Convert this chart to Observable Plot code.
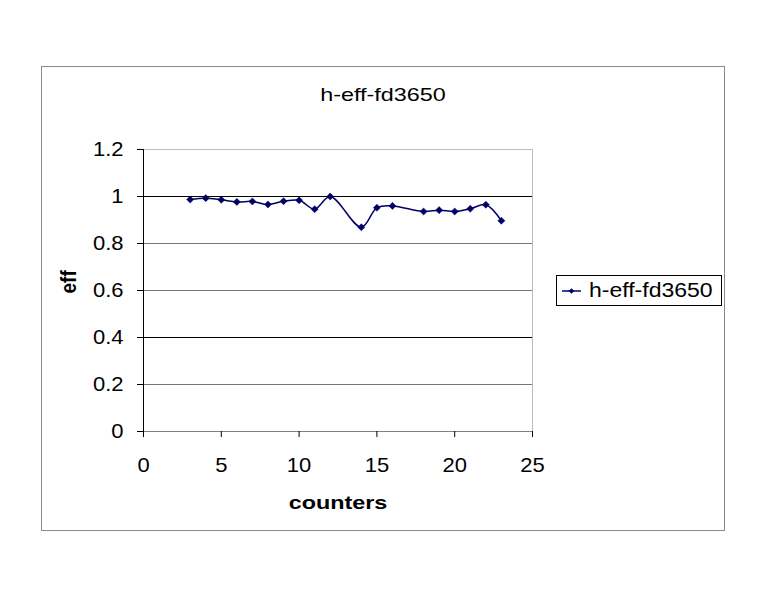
<!DOCTYPE html>
<html>
<head>
<meta charset="utf-8">
<script src="https://cdn.jsdelivr.net/npm/d3@7"></script>
<script src="https://cdn.jsdelivr.net/npm/@observablehq/plot@0.6"></script>
<style>
  html, body { margin: 0; padding: 0; background: #fff; }
  #wrap { position: relative; width: 768px; height: 596px; overflow: hidden; font-family: "Liberation Sans", Arial, sans-serif; }
  #border { position: absolute; left: 41px; top: 66px; width: 684px; height: 465px; box-sizing: border-box; border: 1px solid #8a8a8a; }
  #chart { position: absolute; left: 0; top: 0; }
  #legend { position: absolute; left: 556px; top: 275px; width: 166px; height: 31px; box-sizing: border-box; border: 1px solid #000; background: #fff; }
  #legend svg { position: absolute; left: 0; top: 0; }
  #legend .lab { position: absolute; left: 32px; top: 4px; font-size: 20px; line-height: 20px; white-space: nowrap; transform: scaleX(1.15); transform-origin: left center; color: #000; }
</style>
</head>
<body>
<div id="wrap">
  <div id="border"></div>
  <div id="chart"></div>
  <div id="legend"></div>
</div>
<script>
// ---- data ----
const counters = [3, 4, 5, 6, 7, 8, 9, 10, 11, 12, 14, 15, 16, 18, 19, 20, 21, 22, 23];
const eff = [0.987, 0.993, 0.986, 0.977, 0.979, 0.966, 0.980, 0.984, 0.946, 1.000, 0.869, 0.952, 0.960, 0.936, 0.942, 0.936, 0.948, 0.965, 0.897];
const xTicks = [0, 5, 10, 15, 20, 25];
const yTicks = [0, 0.2, 0.4, 0.6, 0.8, 1, 1.2];
const seriesName = "h-eff-fd3650";
const chartTitle = "h-eff-fd3650";
const xLabel = "counters";
const yLabel = "eff";

const data = counters.map((c, i) => ({counter: c, eff: eff[i]}));
const navy = "#000066";

const svg = Plot.plot({
  width: 768,
  height: 596,
  marginLeft: 143,
  marginRight: 236,
  marginTop: 149,
  marginBottom: 165,
  style: {fontFamily: '"Liberation Sans", Arial, sans-serif', fontSize: "20px", background: "transparent", overflow: "visible", color: "#000"},
  x: {domain: [0, 25]},
  y: {domain: [0, 1.2]},
  marks: [
    Plot.ruleY([0.8, 0.6, 0.2], {stroke: "#777"}),
    Plot.ruleY([1, 0.4], {stroke: "#000"}),
    Plot.ruleY([1.2], {stroke: "#bdbdbd"}),
    Plot.ruleX([25], {stroke: "#bdbdbd"}),
    Plot.ruleY([0], {stroke: "#808080"}),
    Plot.ruleX([0], {stroke: "#000"}),
    Plot.axisX({ticks: xTicks, tickSize: 6, tickPadding: 20, label: null, fontSize: 20, tickFormat: d => String(d)}),
    Plot.axisY({ticks: yTicks, tickSize: 6, tickPadding: 14, label: null, fontSize: 20, tickFormat: d => String(d)}),
    Plot.line(data, {x: "counter", y: "eff", curve: "catmull-rom", stroke: navy, strokeWidth: 1.5}),
    Plot.dot(data, {x: "counter", y: "eff", symbol: "diamond2", r: 3.2, fill: navy, stroke: navy, strokeWidth: 0.5}),
    Plot.text([chartTitle], {text: d => d, frameAnchor: "top", lineAnchor: "middle", dx: 45, dy: -55, fontSize: 19}),
    Plot.text([xLabel], {text: d => d, frameAnchor: "bottom", lineAnchor: "middle", dy: 71, fontSize: 19, fontWeight: "bold"}),
    Plot.text([yLabel], {text: d => d, frameAnchor: "left", lineAnchor: "middle", rotate: -90, dx: -75, dy: 3, fontSize: 19, fontWeight: "bold"})
  ]
});

// stretch text horizontally like the reference image
function stretch(el, k) {
  let t = el.getAttribute("transform") || "";
  const xa = el.getAttribute("x");
  let x0 = 0;
  if (xa !== null && !isNaN(+xa)) { x0 = +xa; el.removeAttribute("x"); }
  const m = t.match(/^\s*translate\(\s*([-\d.e]+)[ ,]*([-\d.e]*)\s*\)/);
  if (m) {
    const tx = +m[1] + x0, ty = m[2] === "" ? 0 : +m[2];
    t = `translate(${tx},${ty}) scale(${k},1)` + t.slice(m[0].length);
  } else {
    t = `translate(${x0},0) scale(${k},1) ` + t;
  }
  el.setAttribute("transform", t);
}
svg.querySelectorAll("text").forEach(el => {
  const s = el.textContent;
  const k = (s === chartTitle || s === xLabel) ? 1.23 : (s === yLabel ? 1.15 : 1.1);
  stretch(el, k);
});
document.getElementById("chart").appendChild(svg);

// legend
const leg = document.getElementById("legend");
const ls = d3.create("svg").attr("width", 32).attr("height", 29);
ls.append("line").attr("x1", 5).attr("x2", 24).attr("y1", 15).attr("y2", 15).attr("stroke", navy).attr("stroke-width", 1.5);
ls.append("path").attr("d", d3.symbol(d3.symbolDiamond2, 20)()).attr("transform", "translate(14.5,15)").attr("fill", navy);
leg.appendChild(ls.node());
const lab = document.createElement("div");
lab.className = "lab";
lab.textContent = seriesName;
leg.appendChild(lab);
</script>
</body>
</html>
